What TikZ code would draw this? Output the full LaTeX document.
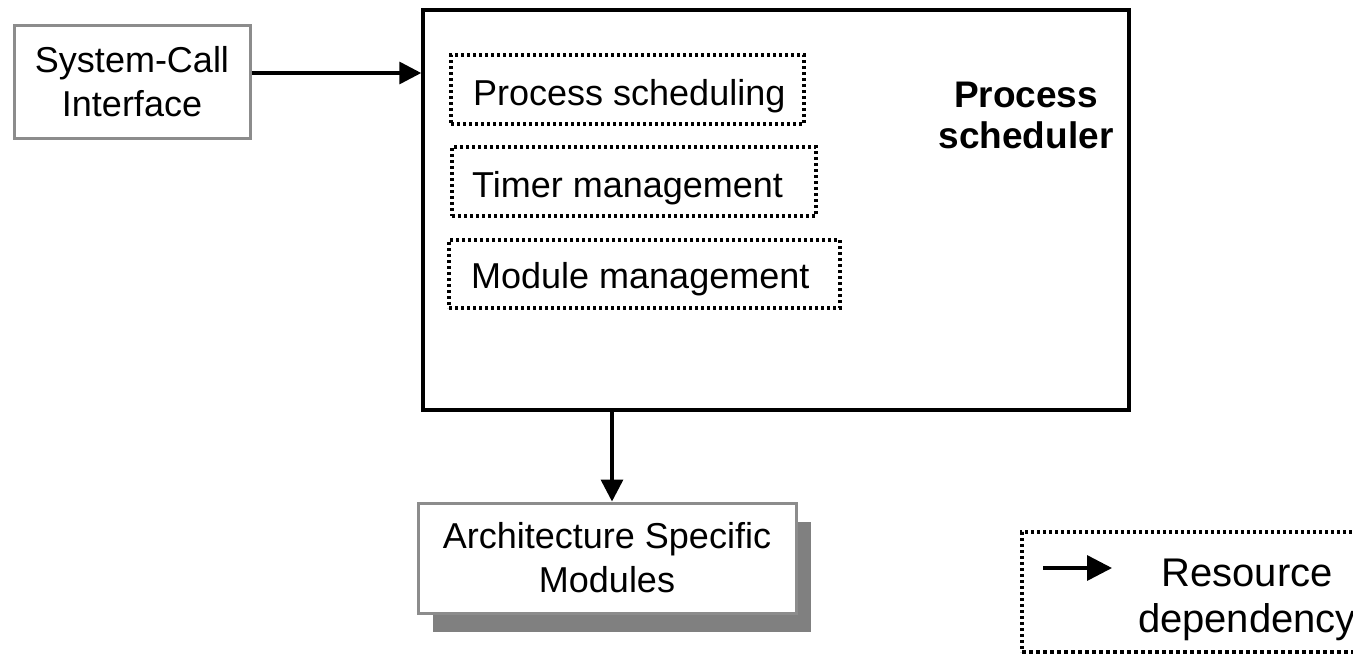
\documentclass[tikz,border=0pt]{standalone}
\usepackage{fontspec}
\setmainfont{Liberation Sans}
\usetikzlibrary{arrows.meta,shadows}
\definecolor{boxgray}{HTML}{8C8C8C}
\definecolor{shadowgray}{HTML}{808080}

\begin{document}
\begin{tikzpicture}[x=1pt,y=-1pt,
  every node/.style={inner sep=0pt},
  labelfont/.style={font=\fontsize{36}{44}\selectfont},
  graybox/.style={draw=boxgray, line width=3pt, fill=white, align=center, labelfont},
  mainbox/.style={draw=black, line width=3.5pt},
  dotbox/.style={draw=black, line width=3.5pt, dash pattern=on 3pt off 3pt},
  itemtext/.style={anchor=base west, labelfont},
  dep/.style={line width=3.5pt, -{Triangle[length=22pt,width=22pt]}},
]
\useasboundingbox (0,0) rectangle (1353,654);
\clip (0,0) rectangle (1353,654);

% process scheduler subsystem
\node[mainbox, minimum width=706pt, minimum height=400pt] (main) at (776,210) {};
\node[font=\bfseries\fontsize{37}{41}\selectfont, align=center] (mainlabel) at (1026,115) {Process\\scheduler};

% inner components
\node[dotbox, minimum width=353pt, minimum height=69pt] (psBox) at (627.5,89.5) {};
\node[itemtext] (psText) at (473,105) {Process scheduling};
\node[dotbox, minimum width=364pt, minimum height=69pt] (tmBox) at (634,181.5) {};
\node[itemtext] (tmText) at (472,197) {Timer management};
\node[dotbox, minimum width=391pt, minimum height=68pt] (mmBox) at (644.5,274) {};
\node[itemtext] (mmText) at (471,288) {Module management};

% neighbouring subsystems
\node[graybox, minimum width=236pt, minimum height=113pt] (sys) at (132,81.5) {System-Call\\Interface};
\node[graybox, minimum width=378pt, minimum height=110pt,
      general shadow={fill=shadowgray, shadow xshift=15pt, shadow yshift=-19pt}]
      (arch) at (607,558) {Architecture Specific\\Modules};

% dependencies
\draw[dep] ([yshift=8.5pt]sys.east) -- ([yshift=8.5pt]sys.east -| main.west);
\draw[dep] ([xshift=5pt]arch.north |- main.south) -- ([xshift=5pt]arch.north);

% legend
\draw[line width=3.5pt, dash pattern=on 3pt off 3pt] (1400,532) -- (1022,532) -- (1022,652);
\draw[line width=3.5pt, dash pattern=on 4pt off 3pt] (1022,652) -- (1400,652);
\coordinate (legA) at (1043,568);
\coordinate (legB) at (1112,568);
\draw[line width=3.5pt, -{Triangle[length=25pt,width=25pt]}] (legA) -- (legB);
\node[font=\fontsize{40}{46}\selectfont, align=center] (legtext) at (1247,599.5) {Resource\\dependency};
\end{tikzpicture}
\end{document}
